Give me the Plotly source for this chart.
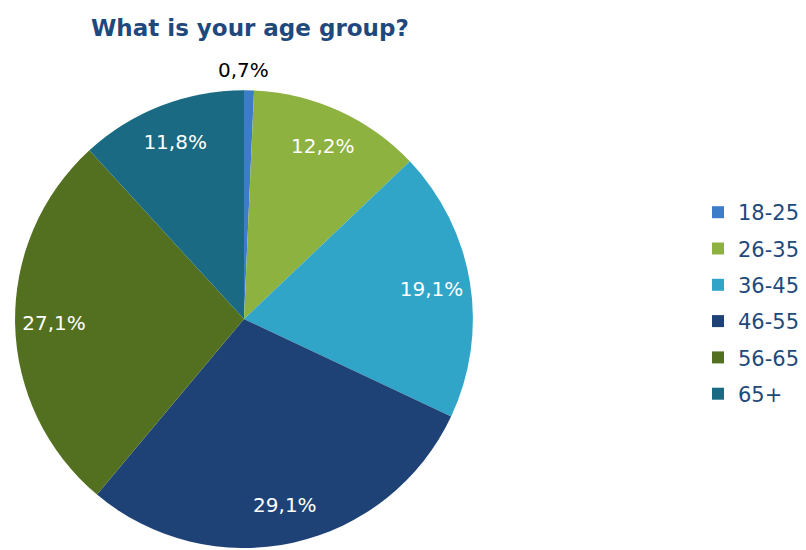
import plotly.graph_objects as go

# Survey answers: share of respondents by age group (%)
age_groups = ["18-25", "26-35", "36-45", "46-55", "56-65", "65+"]
shares = [0.7, 12.2, 19.1, 29.1, 27.1, 11.8]
slice_colors = ["#3D7CC9", "#8DB240", "#31A5C8", "#1E4275", "#52701F", "#196A82"]

labels = [f"{v:.1f}%".replace(".", ",") for v in shares]

# The thinnest slice gets its label above the pie, the rest sit inside near the rim
inside_text = ["" if v < 1 else t for v, t in zip(shares, labels)]
outside_text = [t for v, t in zip(shares, labels) if v < 1]

pie_domain = dict(x=[0.0186, 0.5868], y=[0.0036, 0.836])
pie_common = dict(
    labels=age_groups,
    values=shares,
    sort=False,
    direction="clockwise",
    rotation=0,
    domain=pie_domain,
    showlegend=False,
)

fig = go.Figure()

# Filled slices
fig.add_trace(
    go.Pie(
        **pie_common,
        textinfo="none",
        marker=dict(colors=slice_colors, line=dict(width=0)),
        hoverinfo="label+percent",
    )
)

# Transparent ring on top: keeps the value labels near the rim of each slice
fig.add_trace(
    go.Pie(
        **pie_common,
        hole=0.66,
        text=inside_text,
        textinfo="text",
        textposition="inside",
        insidetextorientation="horizontal",
        textfont=dict(family="DejaVu Sans", size=20, color="#FFFFFF"),
        marker=dict(colors=["rgba(0,0,0,0)"] * len(shares), line=dict(width=0)),
        hoverinfo="skip",
    )
)

# Label of the small slice, centred above the top of the pie
for t in outside_text:
    fig.add_annotation(
        text=t,
        xref="paper",
        yref="paper",
        x=sum(pie_domain["x"]) / 2,
        y=pie_domain["y"][1] + 0.037,
        xanchor="center",
        yanchor="middle",
        showarrow=False,
        font=dict(family="DejaVu Sans", size=20, color="#000000"),
    )

# Legend entries, one per age group
for name, color in zip(age_groups, slice_colors):
    fig.add_trace(
        go.Scatter(
            x=[None],
            y=[None],
            mode="markers",
            name=name,
            legendgroup=name,
            marker=dict(symbol="square", size=12, color=color),
            hoverinfo="skip",
        )
    )

fig.update_layout(
    width=806,
    height=550,
    margin=dict(l=0, r=0, t=0, b=0, autoexpand=False),
    paper_bgcolor="white",
    plot_bgcolor="white",
    xaxis=dict(visible=False),
    yaxis=dict(visible=False),
    title=dict(
        text="<b>What is your age group?</b>",
        x=0.31,
        xanchor="center",
        y=0.95,
        yanchor="middle",
        font=dict(family="DejaVu Sans", size=23, color="#1F497D"),
    ),
    legend=dict(
        x=0.866,
        y=0.449,
        xanchor="left",
        yanchor="middle",
        tracegroupgap=6,
        font=dict(family="DejaVu Sans", size=21, color="#1F497D"),
        itemclick=False,
        itemdoubleclick=False,
    ),
)

fig.write_html("out.html")
